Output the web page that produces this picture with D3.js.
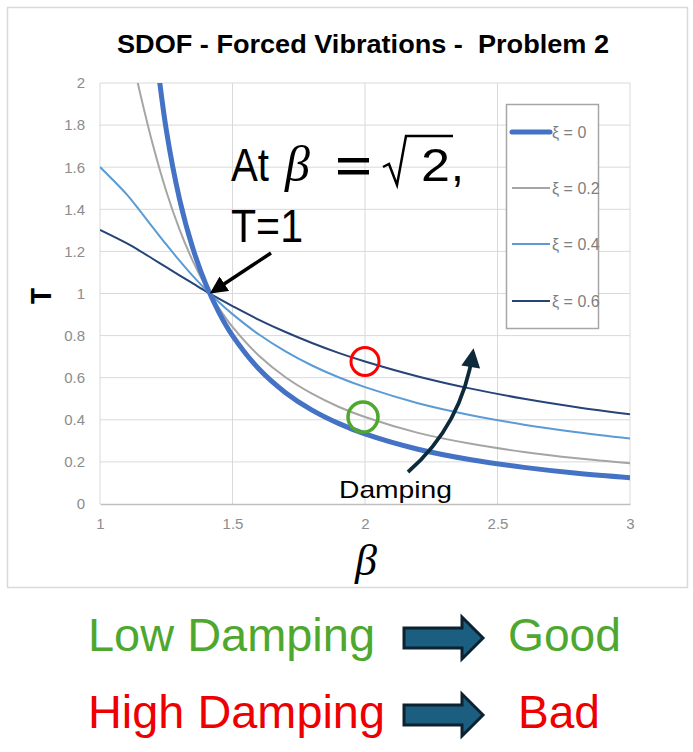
<!DOCTYPE html>
<html>
<head>
<meta charset="utf-8">
<script src="https://cdn.jsdelivr.net/npm/d3@7/dist/d3.min.js"></script>
<style>
  body { margin: 0; background: #fff; }
  svg { display: block; }
</style>
</head>
<body>
<svg id="chart" width="693" height="752"></svg>
<script>
// values (T against beta, one array per damping ratio)
var betaValues = [1.0, 1.1, 1.15, 1.2, 1.25, 1.3, 1.35, 1.4, 1.45, 1.5, 1.6, 1.7, 1.8, 1.9, 2.0, 2.2, 2.4, 2.6, 2.8, 3.0];
var tXi0  = [null, null, null, 2.273, 1.778, 1.449, 1.216, 1.042, 0.907, 0.800, 0.641, 0.529, 0.446, 0.383, 0.333, 0.260, 0.210, 0.174, 0.146, 0.125];
var tXi02 = [2.693, 2.241, 1.959, 1.704, 1.486, 1.305, 1.155, 1.031, 0.928, 0.841, 0.704, 0.602, 0.524, 0.462, 0.413, 0.338, 0.286, 0.247, 0.217, 0.193];
var tXi04 = [1.601, 1.472, 1.394, 1.313, 1.233, 1.156, 1.084, 1.018, 0.957, 0.902, 0.805, 0.725, 0.658, 0.602, 0.555, 0.479, 0.422, 0.377, 0.341, 0.311];
var tXi06 = [1.302, 1.239, 1.203, 1.164, 1.125, 1.086, 1.048, 1.010, 0.974, 0.940, 0.875, 0.817, 0.765, 0.718, 0.677, 0.606, 0.548, 0.500, 0.460, 0.426];
var seriesNames = ["ξ = 0", "ξ = 0.2", "ξ = 0.4", "ξ = 0.6"];
var xTicks = [1, 1.5, 2, 2.5, 3];
var yTicks = [0, 0.2, 0.4, 0.6, 0.8, 1, 1.2, 1.4, 1.6, 1.8, 2];
var crossBeta = Math.SQRT2, crossT = 1;

var svg = d3.select("#chart");
var x = d3.scaleLinear().domain([1, 3]).range([100, 630]);
var y = d3.scaleLinear().domain([0, 2]).range([504, 83]);

var styles = [
  { color: "#4472C4", width: 5 },
  { color: "#A5A5A5", width: 2 },
  { color: "#5B9BD5", width: 2 },
  { color: "#264478", width: 2 }
];
var series = [tXi0, tXi02, tXi04, tXi06].map(function (vals, i) {
  return { name: seriesNames[i], style: styles[i],
           pts: betaValues.map(function (b, j) { return [b, vals[j]]; }) };
});

// outer frame
svg.append("rect").attr("x", 7.5).attr("y", 7.5).attr("width", 680).attr("height", 580)
  .attr("fill", "#fff").attr("stroke", "#d9d9d9").attr("stroke-width", 1.5);

// title
svg.append("text").attr("x", 363).attr("y", 53).attr("text-anchor", "middle")
  .attr("font-family", "Liberation Sans").attr("font-weight", "bold").attr("font-size", 26)
  .attr("textLength", 492).attr("lengthAdjust", "spacingAndGlyphs")
  .style("white-space", "pre").text("SDOF - Forced Vibrations -  Problem 2");

// gridlines
var grid = svg.append("g").attr("stroke", "#d9d9d9").attr("stroke-width", 1);
grid.selectAll(".gy").data(yTicks.slice(1)).enter().append("line")
  .attr("x1", x(1)).attr("x2", x(3)).attr("y1", function (d) { return y(d); }).attr("y2", function (d) { return y(d); });
grid.selectAll(".gx").data(xTicks).enter().append("line")
  .attr("y1", y(0)).attr("y2", y(2)).attr("x1", function (d) { return x(d); }).attr("x2", function (d) { return x(d); });

// axes
var xAxis = svg.append("g").attr("transform", "translate(0," + y(0) + ")")
  .call(d3.axisBottom(x).tickValues(xTicks).tickSize(0).tickPadding(14).tickFormat(function (d) { return String(d); }));
var yAxis = svg.append("g").attr("transform", "translate(" + x(1) + ",0)")
  .call(d3.axisLeft(y).tickValues(yTicks).tickSize(0).tickPadding(15).tickFormat(function (d) { return String(+d.toFixed(1)); }));
yAxis.select(".domain").remove();
xAxis.select(".domain").attr("stroke", "#bfbfbf").attr("stroke-width", 1.5);
svg.selectAll(".tick text").attr("font-family", "Liberation Sans").attr("font-size", 15).attr("fill", "#8c8c8c");

// axis titles
svg.append("text").attr("transform", "translate(51,296) rotate(-90)").attr("text-anchor", "middle")
  .attr("font-family", "Liberation Sans").attr("font-weight", "bold").attr("font-size", 29)
  .attr("textLength", 16).attr("lengthAdjust", "spacingAndGlyphs").text("T");
svg.append("text").attr("x", 366).attr("y", 575).attr("text-anchor", "middle")
  .attr("font-family", "Liberation Serif").attr("font-style", "italic").attr("font-size", 44).text("β");

// curves
svg.append("clipPath").attr("id", "plotClip").append("rect")
  .attr("x", x(1)).attr("y", y(2)).attr("width", x(3) - x(1)).attr("height", y(0) - y(2));
var line = d3.line()
  .defined(function (d) { return d[1] !== null; })
  .x(function (d) { return x(d[0]); }).y(function (d) { return y(d[1]); })
  .curve(d3.curveCatmullRom.alpha(0.5));
svg.append("g").attr("clip-path", "url(#plotClip)").selectAll("path").data(series.slice().reverse()).enter()
  .append("path").attr("d", function (d) { return line(d.pts); }).attr("fill", "none")
  .attr("stroke", function (d) { return d.style.color; }).attr("stroke-width", function (d) { return d.style.width; });

// legend
var lg = svg.append("g");
lg.append("rect").attr("x", 506.5).attr("y", 104.5).attr("width", 92).attr("height", 224)
  .attr("fill", "#fff").attr("stroke", "#a6a6a6").attr("stroke-width", 1.5);
var legendY = [132, 188, 244, 301];
series.forEach(function (s, i) {
  lg.append("line").attr("x1", 512).attr("x2", 550).attr("y1", legendY[i]).attr("y2", legendY[i])
    .attr("stroke", s.style.color).attr("stroke-width", s.style.width).attr("stroke-linecap", i === 0 ? "round" : "butt");
  lg.append("text").attr("x", 552).attr("y", legendY[i] + 6).attr("font-family", "Liberation Sans")
    .attr("font-size", 16).attr("fill", "#7f7f7f").text(s.name);
});

// markers
var defs = svg.append("defs");
defs.append("marker").attr("id", "headBlack").attr("viewBox", "0 0 10 10").attr("refX", 8).attr("refY", 5)
  .attr("markerWidth", 5).attr("markerHeight", 5).attr("orient", "auto")
  .append("path").attr("d", "M0,0 L10,5 L0,10 Z").attr("fill", "#000");
defs.append("marker").attr("id", "headNavy").attr("viewBox", "0 0 10 10").attr("refX", 8).attr("refY", 5)
  .attr("markerWidth", 5.5).attr("markerHeight", 5).attr("orient", "auto")
  .append("path").attr("d", "M0,0 L10,5 L0,10 Z").attr("fill", "#0d2a3a");

// annotation "At beta = sqrt2, T=1"
var ann = svg.append("g").attr("font-family", "Liberation Sans").attr("font-size", 46).attr("fill", "#000");
ann.append("text").attr("x", 231).attr("y", 181).attr("textLength", 38).attr("lengthAdjust", "spacingAndGlyphs").text("At");
ann.append("text").attr("x", 285).attr("y", 181).attr("font-family", "Liberation Serif").attr("font-style", "italic").attr("font-size", 50).text("β");
ann.append("rect").attr("x", 338).attr("y", 158).attr("width", 31).attr("height", 4.5);
ann.append("rect").attr("x", 338).attr("y", 170).attr("width", 31).attr("height", 4.5);
ann.append("path").attr("d", "M383,167 L389,164 L397,185 L406,136 L453,136")
  .attr("fill", "none").attr("stroke", "#000").attr("stroke-width", 2.5).attr("stroke-linejoin", "miter");
ann.append("text").attr("x", 421).attr("y", 181).attr("textLength", 29).attr("lengthAdjust", "spacingAndGlyphs").text("2");
ann.append("text").attr("x", 451).attr("y", 181).text(",");
ann.append("text").attr("x", 231).attr("y", 242).attr("textLength", 72).attr("lengthAdjust", "spacingAndGlyphs").text("T=1");
svg.append("line").attr("x1", 271).attr("y1", 253).attr("x2", x(crossBeta) + 3).attr("y2", y(crossT) - 2)
  .attr("stroke", "#000").attr("stroke-width", 3.5).attr("marker-end", "url(#headBlack)");

// circles at beta = 2
svg.append("circle").attr("cx", x(2)).attr("cy", y(tXi06[betaValues.indexOf(2.0)])).attr("r", 14)
  .attr("fill", "none").attr("stroke", "#ff0000").attr("stroke-width", 3);
svg.append("circle").attr("cx", x(2) - 2).attr("cy", y(tXi02[betaValues.indexOf(2.0)])).attr("r", 15)
  .attr("fill", "none").attr("stroke", "#4ea72e").attr("stroke-width", 3.5);

// damping arrow
svg.append("path").attr("d", "M408,472 Q462,425 473,352").attr("fill", "none")
  .attr("stroke", "#0d2a3a").attr("stroke-width", 3.8).attr("marker-end", "url(#headNavy)");
svg.append("text").attr("x", 339).attr("y", 498).attr("font-family", "Liberation Sans").attr("font-size", 24)
  .attr("textLength", 113).attr("lengthAdjust", "spacingAndGlyphs").text("Damping");

// bottom statements
var bottom = svg.append("g").attr("font-family", "Liberation Sans").attr("font-size", 46);
bottom.append("text").attr("x", 88).attr("y", 651).attr("fill", "#4ea72e").attr("textLength", 287).text("Low Damping");
bottom.append("text").attr("x", 508).attr("y", 651).attr("fill", "#4ea72e").attr("textLength", 113).text("Good");
bottom.append("text").attr("x", 88).attr("y", 728).attr("fill", "#ee0000").attr("textLength", 297).text("High Damping");
bottom.append("text").attr("x", 518).attr("y", 728).attr("fill", "#ee0000").attr("textLength", 82).text("Bad");
bottom.selectAll("text").attr("lengthAdjust", "spacingAndGlyphs");
function blockArrow(cy) {
  return "M404," + (cy - 10) + " L462," + (cy - 10) + " L462," + (cy - 21) + " L483," + cy +
         " L462," + (cy + 21) + " L462," + (cy + 10) + " L404," + (cy + 10) + " Z";
}
[638, 715].forEach(function (cy) {
  svg.append("path").attr("d", blockArrow(cy)).attr("fill", "#1b5e80")
    .attr("stroke", "#0c2231").attr("stroke-width", 3).attr("stroke-linejoin", "miter");
});
</script>
</body>
</html>
